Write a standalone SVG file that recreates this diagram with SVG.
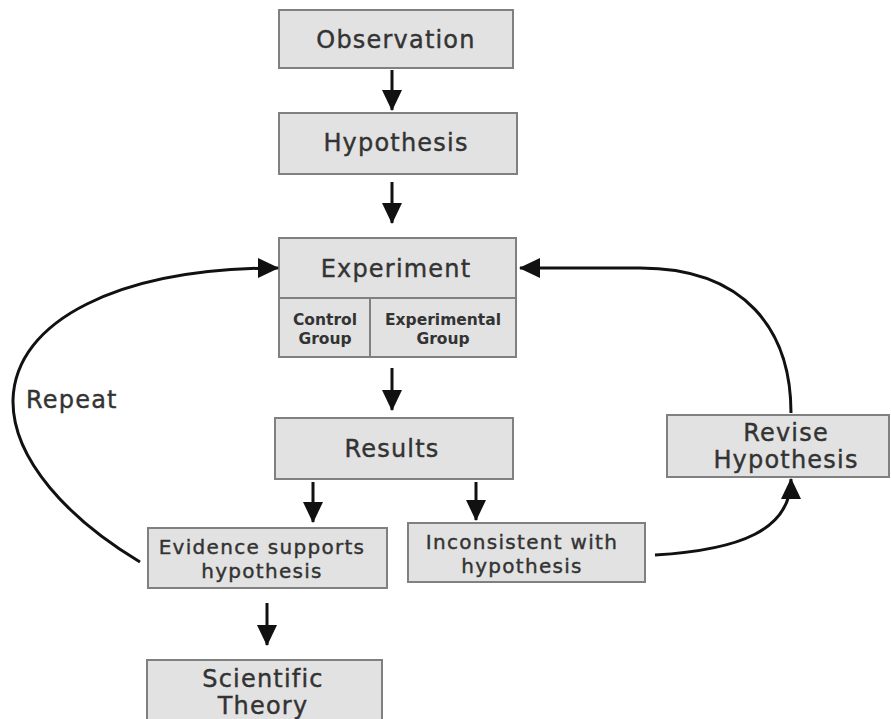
<svg xmlns="http://www.w3.org/2000/svg" width="891" height="719" viewBox="0 0 891 719">
<style>
.box{fill:#e2e2e2;stroke:#808080;stroke-width:2}
.t{font-family:"DejaVu Sans","Liberation Sans",sans-serif;fill:#333;stroke:#333;stroke-width:0.4;text-anchor:middle}
.big{font-size:24px;letter-spacing:1.2px}
.mid{font-size:20px;letter-spacing:1.3px}
.sm{font-size:15.5px;font-weight:bold;stroke-width:0}
.c{fill:none;stroke:#111;stroke-width:3}
</style>
<defs>
<marker id="ah" markerUnits="userSpaceOnUse" markerWidth="22" markerHeight="22" viewBox="0 0 22 22" refX="20" refY="11" orient="auto">
<path d="M0,1 L21,11 L0,21 Z" fill="#111"/>
</marker>
</defs>
<rect width="891" height="719" fill="#fff"/>
<g id="observation"><rect class="box" x="279" y="10" width="234" height="58"/><text class="t big" x="396" y="48">Observation</text></g>
<g id="hypothesis"><rect class="box" x="279" y="113" width="238" height="61"/><text class="t big" x="396" y="151">Hypothesis</text></g>
<g id="experiment"><rect class="box" x="279" y="238" width="237" height="119"/><line x1="279" y1="298" x2="516" y2="298" stroke="#808080" stroke-width="2"/><line x1="370" y1="298" x2="370" y2="357" stroke="#808080" stroke-width="2"/><text class="t big" x="396" y="277">Experiment</text><text class="t sm" x="325" y="325">Control</text><text class="t sm" x="325" y="344">Group</text><text class="t sm" x="443" y="325">Experimental</text><text class="t sm" x="443" y="344">Group</text></g>
<g id="results"><rect class="box" x="275" y="418" width="238" height="61"/><text class="t big" x="392" y="457">Results</text></g>
<g id="evidence"><rect class="box" x="148" y="528" width="239" height="60"/><text class="t mid" x="262" y="554">Evidence supports</text><text class="t mid" x="262" y="578">hypothesis</text></g>
<g id="inconsistent"><rect class="box" x="408" y="523" width="237" height="59"/><text class="t mid" x="522" y="549">Inconsistent with</text><text class="t mid" x="522" y="573">hypothesis</text></g>
<g id="revise"><rect class="box" x="667" y="415" width="222" height="62"/><text class="t big" x="786" y="441">Revise</text><text class="t big" x="786" y="468">Hypothesis</text></g>
<g id="theory"><rect class="box" x="147" y="660" width="235" height="62"/><text class="t big" x="263" y="687">Scientific</text><text class="t big" x="263" y="714">Theory</text></g>
<g id="repeat-label"><text class="t big" x="26" y="408" style="text-anchor:start">Repeat</text></g>
<g id="connectors">
<line class="c" x1="392" y1="70" x2="392" y2="110" marker-end="url(#ah)"/>
<line class="c" x1="392" y1="182" x2="392" y2="223" marker-end="url(#ah)"/>
<line class="c" x1="392" y1="368" x2="392" y2="410" marker-end="url(#ah)"/>
<line class="c" x1="313" y1="482" x2="313" y2="522" marker-end="url(#ah)"/>
<line class="c" x1="476" y1="482" x2="476" y2="520" marker-end="url(#ah)"/>
<line class="c" x1="267" y1="603" x2="267" y2="645" marker-end="url(#ah)"/>
<path class="c" d="M140,562 C70,520 12,460 13,400 C15,320 120,268 278,268" marker-end="url(#ah)"/>
<path class="c" d="M791,413 C791,330 745,268 640,268 L520,268" marker-end="url(#ah)"/>
<path class="c" d="M655,555 C740,550 791,530 791,479" marker-end="url(#ah)"/>
</g>
</svg>
